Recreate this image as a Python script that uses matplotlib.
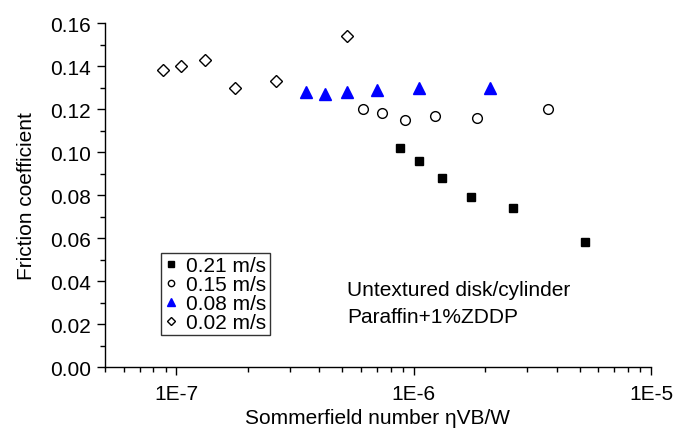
import numpy as np
import matplotlib
matplotlib.use("Agg")
import matplotlib.pyplot as plt
from matplotlib.ticker import LogLocator, FixedLocator, MultipleLocator

plt.rcParams['font.family'] = ['Liberation Sans', 'DejaVu Sans']

# data
x_021 = [8.75e-7, 1.05e-6, 1.315e-6, 1.75e-6, 2.62e-6, 5.26e-6]
y_021 = [0.102, 0.096, 0.088, 0.079, 0.074, 0.058]

x_015 = [6.12e-7, 7.35e-7, 9.2e-7, 1.225e-6, 1.84e-6, 3.67e-6]
y_015 = [0.120, 0.118, 0.115, 0.117, 0.116, 0.120]

x_008 = [3.51e-7, 4.21e-7, 5.26e-7, 7.01e-7, 1.05e-6, 2.10e-6]
y_008 = [0.128, 0.127, 0.128, 0.129, 0.130, 0.130]

x_002 = [8.75e-8, 1.05e-7, 1.315e-7, 1.76e-7, 2.63e-7, 5.26e-7]
y_002 = [0.138, 0.140, 0.143, 0.130, 0.133, 0.154]

labels = ['0.21 m/s', '0.15 m/s', '0.08 m/s', '0.02 m/s']

fig = plt.figure(figsize=(6.86, 4.31), dpi=100)
ax = fig.add_axes([0.153, 0.146, 0.796, 0.798])

ax.plot(x_021, y_021, ls='none', marker='s', ms=6, mfc='black', mec='black', label=labels[0])
ax.plot(x_015, y_015, ls='none', marker='o', ms=7, mfc='white', mec='black', mew=1.0, label=labels[1])
ax.plot(x_008, y_008, ls='none', marker='^', ms=8, mfc='blue', mec='blue', label=labels[2])
ax.plot(x_002, y_002, ls='none', marker='D', ms=6, mfc='white', mec='black', mew=1.0, label=labels[3])

ax.set_xscale('log')
ax.set_xlim(5e-8, 1e-5)
ax.set_ylim(0, 0.16)

ax.xaxis.set_major_locator(FixedLocator([1e-7, 1e-6, 1e-5]))
ax.set_xticklabels(['1E-7', '1E-6', '1E-5'])
ax.xaxis.set_minor_locator(LogLocator(base=10, subs=np.arange(2, 10)))
ax.xaxis.set_minor_formatter(plt.NullFormatter())
ax.yaxis.set_major_locator(MultipleLocator(0.02))
ax.yaxis.set_minor_locator(MultipleLocator(0.01))
ax.yaxis.set_major_formatter(plt.FormatStrFormatter('%.2f'))

for s in ['top', 'right']:
    ax.spines[s].set_visible(False)
for s in ['left', 'bottom']:
    ax.spines[s].set_linewidth(1.0)

ax.tick_params(which='major', direction='out', length=6, width=1.0, labelsize=15)
ax.tick_params(which='minor', direction='out', length=3.5, width=1.0)
ax.tick_params(axis='x', pad=6)
ax.tick_params(axis='y', pad=4)

ax.set_xlabel('Sommerfield number \u03b7VB/W', fontsize=15, labelpad=4)
ax.set_ylabel('Friction coefficient', fontsize=15, labelpad=10)

leg = ax.legend(loc='lower left', bbox_to_anchor=(0.103, 0.093), fontsize=15,
                frameon=True, fancybox=False, edgecolor='black', markerscale=0.65,
                handlelength=0.6, handletextpad=0.45, labelspacing=0.0,
                borderpad=0.15, borderaxespad=0)
leg.get_frame().set_linewidth(1.0)

ax.text(5.25e-7, 0.0363, 'Untextured disk/cylinder', fontsize=15, va='center')
ax.text(5.25e-7, 0.0233, 'Paraffin+1%ZDDP', fontsize=15, va='center')

fig.savefig('out.png', dpi=100)
